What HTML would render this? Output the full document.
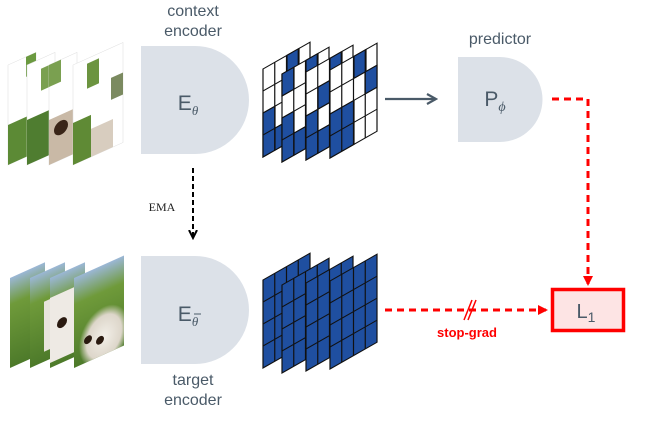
<!DOCTYPE html>
<html><head><style>
body{margin:0;background:#fff;width:662px;height:416px;overflow:hidden}
</style></head><body>
<svg width="662" height="416" viewBox="0 0 662 416" xmlns="http://www.w3.org/2000/svg" font-family="Liberation Sans, sans-serif">
<defs>
<linearGradient id="g1" x1="0" y1="0" x2="0" y2="1"><stop offset="0" stop-color="#9bb7d6"/><stop offset="0.3" stop-color="#6f9a3a"/><stop offset="1" stop-color="#4d7a2a"/></linearGradient>
<radialGradient id="dog" cx="0.6" cy="0.7" r="0.5"><stop offset="0" stop-color="#f2efe8"/><stop offset="0.7" stop-color="#ddd6ca"/><stop offset="1" stop-color="#ddd6ca" stop-opacity="0"/></radialGradient>
<marker id="ar" markerWidth="10" markerHeight="10" refX="8" refY="5" orient="auto" markerUnits="userSpaceOnUse"><path d="M0,0 L10,5 L0,10 z" fill="#ff0000"/></marker>
<marker id="ak" markerWidth="10" markerHeight="10" refX="8" refY="5" orient="auto" markerUnits="userSpaceOnUse"><path d="M0,1 L8,5 L0,9" fill="none" stroke="#000" stroke-width="2"/></marker>
<marker id="ag" markerWidth="12" markerHeight="12" refX="10" refY="6" orient="auto" markerUnits="userSpaceOnUse"><path d="M1,1 L10,6 L1,11" fill="none" stroke="#4a5a68" stroke-width="2.2"/></marker>
</defs>
<g fill="#4a5a68" font-size="16" text-anchor="middle">
<text x="193" y="16">context</text><text x="193" y="36">encoder</text>
<text x="500" y="44">predictor</text>
<text x="193" y="385">target</text><text x="193" y="405">encoder</text>
</g>
<!-- top images -->
<g>
<g transform="matrix(1,-0.45,0,1,8,65)"><rect width="28" height="100" fill="#fff" stroke="#ddd" stroke-width="0.5"/><rect y="60" width="28" height="40" fill="#5c8a35"/><rect x="18" y="0" width="10" height="20" fill="#6b9a40"/></g>
<g transform="matrix(1,-0.45,0,1,27,65)"><rect width="28" height="100" fill="#fff" stroke="#ddd" stroke-width="0.5"/><rect y="55" width="24" height="45" fill="#4f7d30"/><rect x="14" y="10" width="14" height="22" fill="#7aa050"/></g>
<g transform="matrix(1,-0.45,0,1,49,65)"><rect width="28" height="100" fill="#fff" stroke="#ddd" stroke-width="0.5"/><rect y="55" width="26" height="45" fill="#c9b9a6"/><circle cx="12" cy="68" r="7" fill="#3a2518"/><rect x="0" y="0" width="12" height="22" fill="#7aa050"/></g>
<g transform="matrix(1,-0.45,0,1,73,65)"><rect width="50" height="100" fill="#fff" stroke="#ddd" stroke-width="0.5"/><rect y="58" width="18" height="42" fill="#5f8a35"/><rect x="18" y="72" width="22" height="28" fill="#d8cdbf"/><rect x="14" y="5" width="12" height="25" fill="#6c9440"/><rect x="38" y="30" width="12" height="22" fill="#7b8a60"/></g>
</g>
<!-- bottom images -->
<g>
<g transform="matrix(1,-0.45,0,1,10,318)"><rect width="35" height="90" y="-40" fill="url(#g1)"/></g>
<g transform="matrix(1,-0.45,0,1,30,318)"><rect width="35" height="90" y="-40" fill="url(#g1)"/><rect x="14" y="-10" width="20" height="50" fill="#e8e4dc"/></g>
<g transform="matrix(1,-0.45,0,1,50,318)"><rect width="35" height="90" y="-40" fill="url(#g1)"/><rect x="0" y="-20" width="30" height="65" fill="#eeeae4"/><circle cx="12" cy="10" r="5" fill="#2a1a10"/></g>
<g transform="matrix(1,-0.45,0,1,74,318)"><rect width="50" height="90" y="-40" fill="url(#g1)"/><rect y="-10" width="50" height="60" fill="url(#dog)"/><circle cx="14" cy="28" r="4" fill="#2a1a10"/><circle cx="26" cy="34" r="4" fill="#2a1a10"/></g>
</g>
<!-- encoders -->
<path d="M141,46 H195 A54,54 0 0 1 195,154 H141 Z" fill="#dce1e8"/>
<path d="M141,256 H195 A54,54 0 0 1 195,364 H141 Z" fill="#dce1e8"/>
<path d="M458,57 H500 A42.5,42.5 0 0 1 500,142 H458 Z" fill="#dce1e8"/>
<g fill="#4a5a68" font-size="21" text-anchor="middle">
<text x="188" y="110">E<tspan font-size="13" font-style="italic" font-family="Liberation Serif,serif" dy="5">θ</tspan></text>
<text x="188" y="321">E<tspan font-size="13" font-style="italic" font-family="Liberation Serif,serif" dy="5">θ</tspan></text>
<text x="495" y="106">P<tspan font-size="14" font-style="italic" font-family="Liberation Serif,serif" dy="5">ϕ</tspan></text>
</g>
<line x1="194" y1="314" x2="201" y2="314" stroke="#4a5a68" stroke-width="1"/>
<!-- top grids -->
<g stroke="#111" stroke-width="1.2">
<g transform="matrix(1,-0.57,0,1,263,69)">
<rect width="47" height="88" fill="#fff"/>
<rect x="0" y="44" width="12" height="44" fill="#1f4fa0"/><rect x="12" y="66" width="12" height="22" fill="#1f4fa0"/><rect x="24" y="0" width="12" height="22" fill="#1f4fa0"/>
<path d="M11.75,0V88M23.5,0V88M35.25,0V88M0,22H47M0,44H47M0,66H47" fill="none"/></g>
<g transform="matrix(1,-0.57,0,1,282,74)">
<rect width="47" height="88" fill="#fff"/>
<rect x="0" y="44" width="12" height="44" fill="#1f4fa0"/><rect x="12" y="66" width="12" height="22" fill="#1f4fa0"/><rect x="24" y="0" width="12" height="22" fill="#1f4fa0"/><rect x="0" y="0" width="12" height="22" fill="#1f4fa0"/>
<path d="M11.75,0V88M23.5,0V88M35.25,0V88M0,22H47M0,44H47M0,66H47" fill="none"/></g>
<g transform="matrix(1,-0.57,0,1,306,72)">
<rect width="47" height="88" fill="#fff"/>
<rect x="0" y="44" width="12" height="44" fill="#1f4fa0"/><rect x="12" y="66" width="12" height="22" fill="#1f4fa0"/><rect x="24" y="0" width="12" height="22" fill="#1f4fa0"/><rect x="12" y="22" width="12" height="22" fill="#1f4fa0"/>
<path d="M11.75,0V88M23.5,0V88M35.25,0V88M0,22H47M0,44H47M0,66H47" fill="none"/></g>
<g transform="matrix(1,-0.57,0,1,330,70)">
<rect width="47" height="88" fill="#fff"/>
<rect x="0" y="44" width="24" height="44" fill="#1f4fa0"/><rect x="24" y="0" width="12" height="22" fill="#1f4fa0"/><rect x="35" y="22" width="12" height="22" fill="#1f4fa0"/>
<path d="M11.75,0V88M23.5,0V88M35.25,0V88M0,22H47M0,44H47M0,66H47" fill="none"/></g>
</g>
<!-- bottom grids -->
<g stroke="#111" stroke-width="1.2" fill="#1f4fa0">
<g transform="matrix(1,-0.57,0,1,263,280)"><rect width="47" height="88"/><path d="M11.75,0V88M23.5,0V88M35.25,0V88M0,22H47M0,44H47M0,66H47" fill="none"/></g>
<g transform="matrix(1,-0.57,0,1,282,285)"><rect width="47" height="88"/><path d="M11.75,0V88M23.5,0V88M35.25,0V88M0,22H47M0,44H47M0,66H47" fill="none"/></g>
<g transform="matrix(1,-0.57,0,1,306,283)"><rect width="47" height="88"/><path d="M11.75,0V88M23.5,0V88M35.25,0V88M0,22H47M0,44H47M0,66H47" fill="none"/></g>
<g transform="matrix(1,-0.57,0,1,330,281)"><rect width="47" height="88"/><path d="M11.75,0V88M23.5,0V88M35.25,0V88M0,22H47M0,44H47M0,66H47" fill="none"/></g>
</g>
<!-- arrows -->
<line x1="385" y1="99" x2="436" y2="99" stroke="#4a5a68" stroke-width="2.2" marker-end="url(#ag)"/>
<path d="M552,99 H588 V284" fill="none" stroke="#ff0000" stroke-width="3" stroke-dasharray="7,5" marker-end="url(#ar)"/>
<line x1="385" y1="310" x2="546" y2="310" stroke="#ff0000" stroke-width="3" stroke-dasharray="7,5" marker-end="url(#ar)"/>
<path d="M464,320 L472,300 M468,320 L476,300" stroke="#ff0000" stroke-width="1.5"/>
<text x="467" y="337" fill="#ff0000" font-size="13" font-weight="bold" text-anchor="middle">stop-grad</text>
<line x1="193" y1="168" x2="193" y2="238" stroke="#000" stroke-width="2" stroke-dasharray="5,3" marker-end="url(#ak)"/>
<text x="162" y="211" font-family="Liberation Serif,serif" font-size="12" fill="#222" text-anchor="middle">EMA</text>
<rect x="552.5" y="289.5" width="71" height="41" fill="#fde4e4" stroke="#ff0000" stroke-width="3.5"/>
<text x="586" y="318" fill="#4a5a68" font-size="20" text-anchor="middle">L<tspan font-size="14" dy="4">1</tspan></text>
</svg>
</body></html>
